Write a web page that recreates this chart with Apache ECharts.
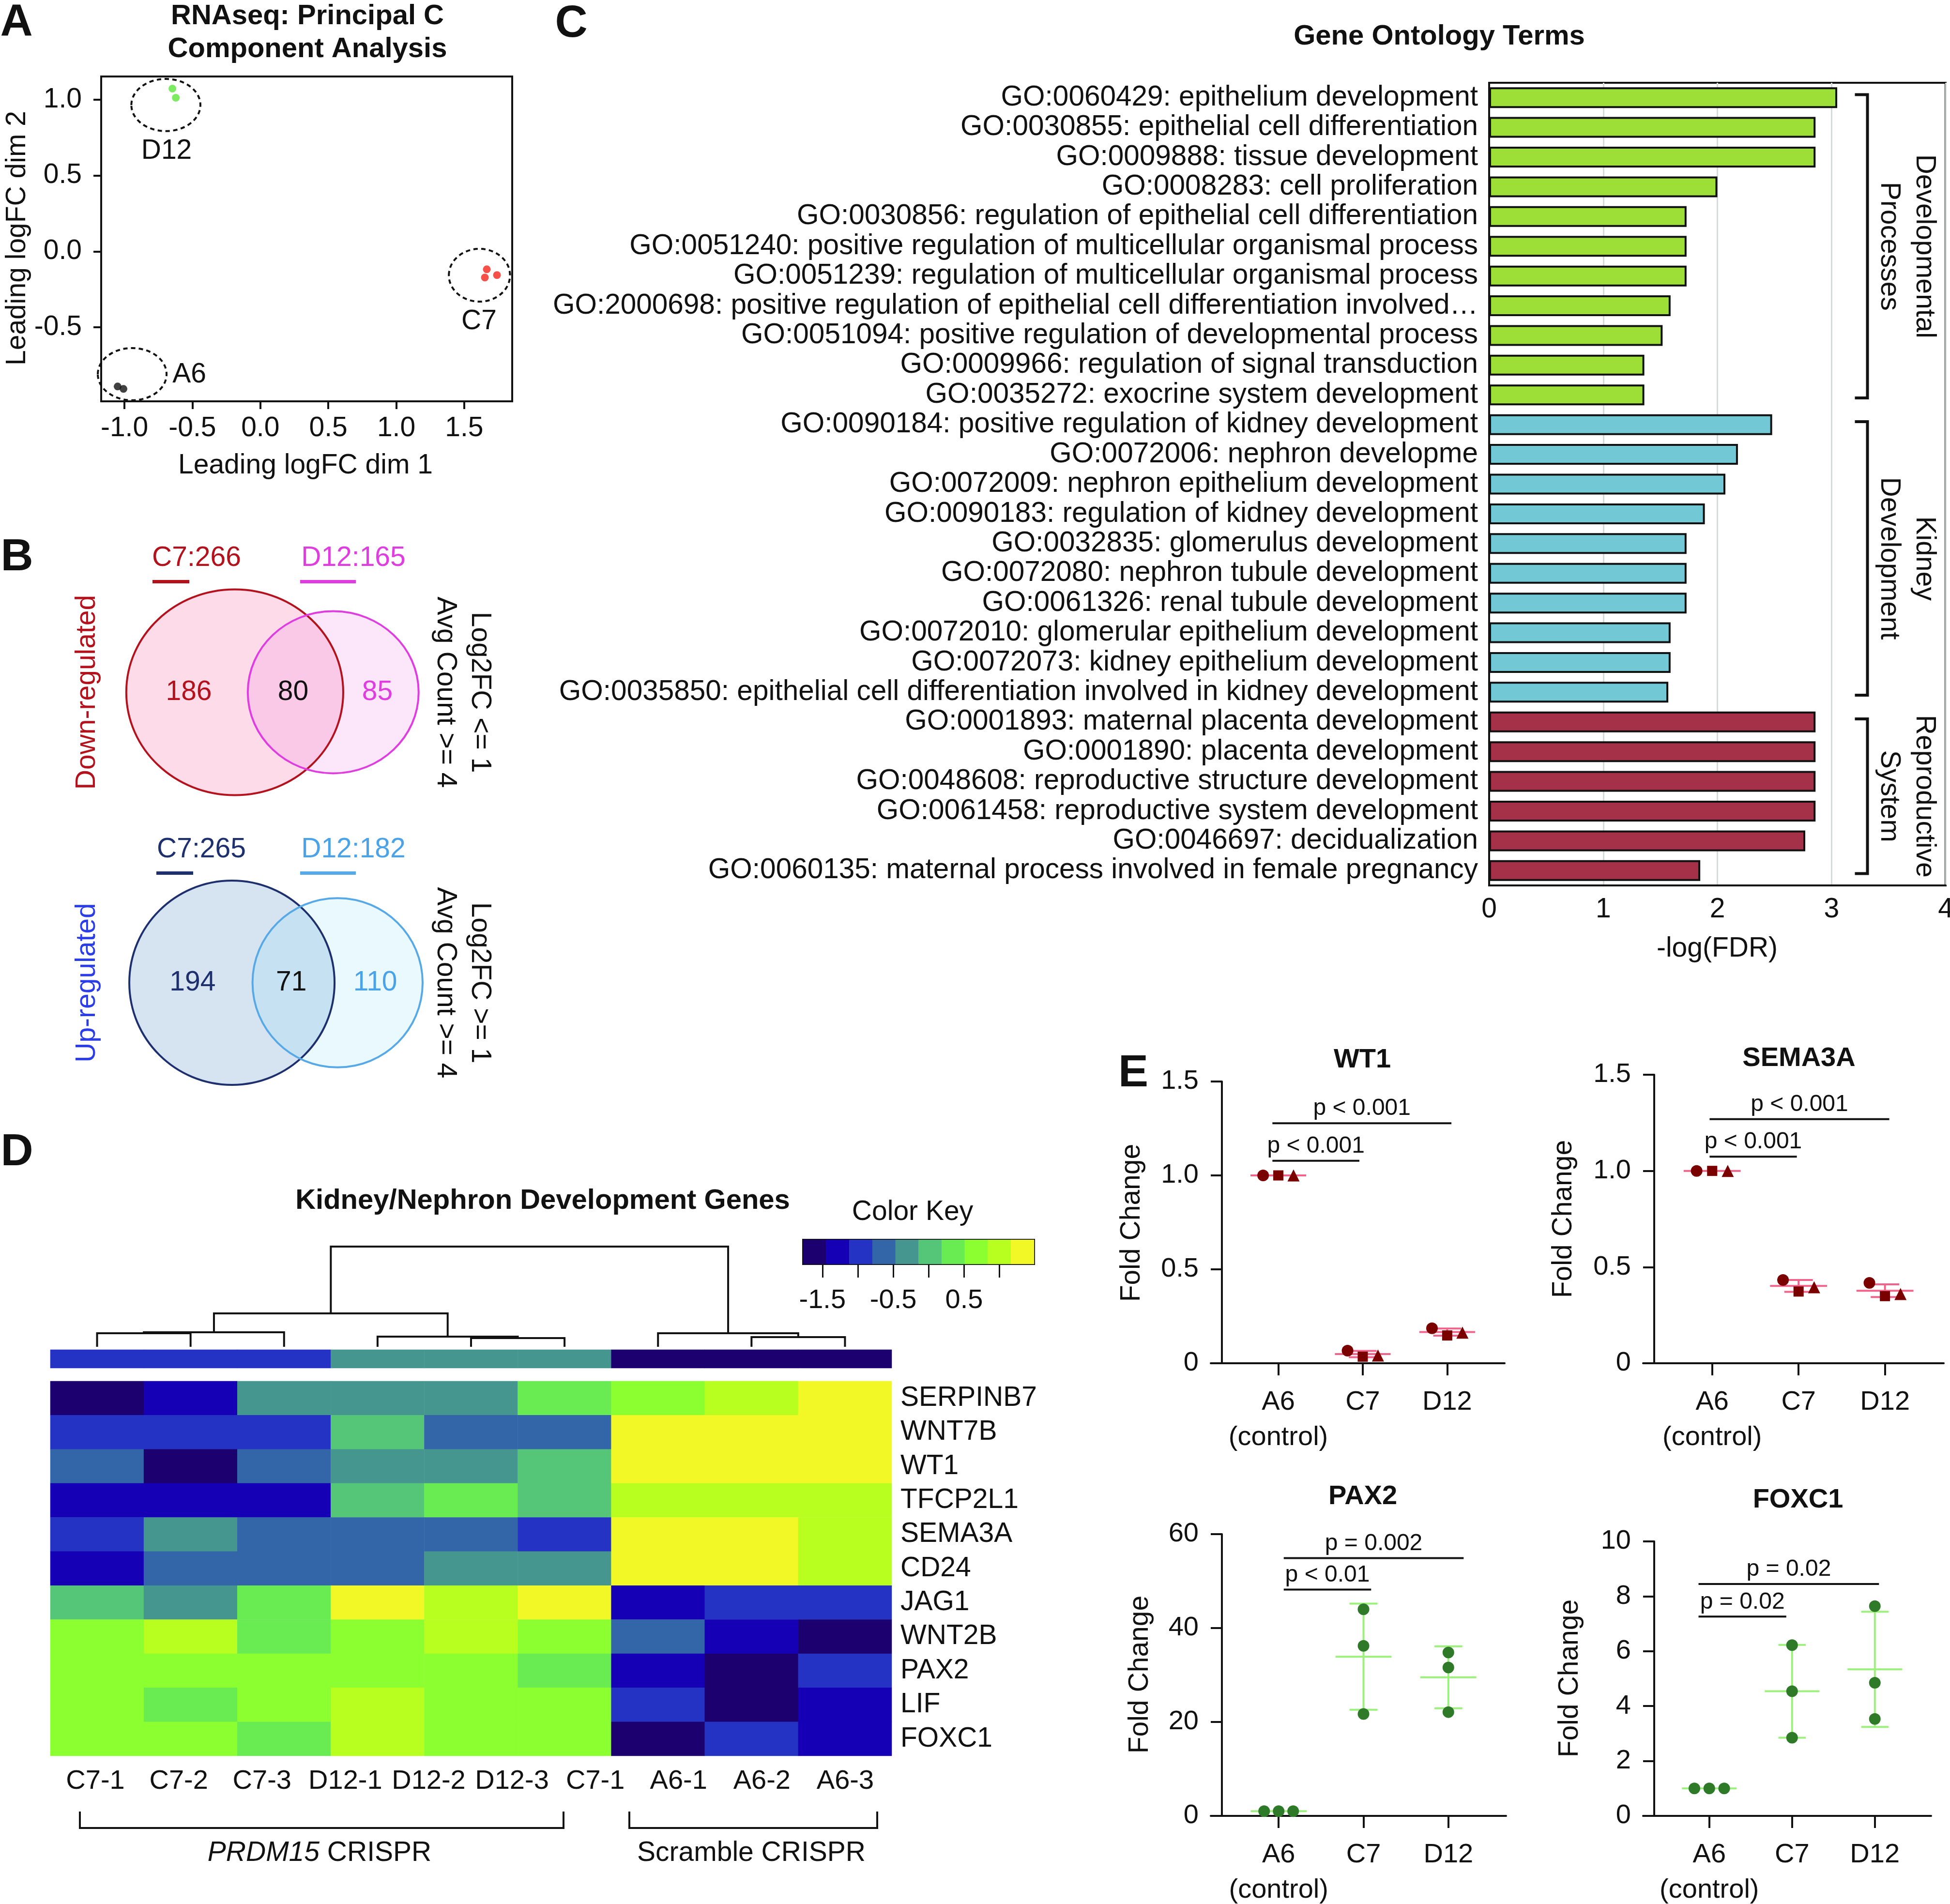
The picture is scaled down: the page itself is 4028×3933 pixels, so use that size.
<!DOCTYPE html>
<html>
<head>
<meta charset="utf-8">
<title>PRDM15 CRISPR figure</title>
<script src="https://cdn.jsdelivr.net/npm/echarts@6.0.0/dist/echarts.min.js"></script>
<style>
html,body{margin:0;padding:0;background:#ffffff;}
#chart{width:4028px;height:3933px;}
</style>
</head>
<body>
<div id="chart"></div>
<script>
// ================= DATA =================
// --- Panel A: PCA ---
const pcaA6 = [[-1.050, -0.890], [-1.007, -0.906]];
const pcaC7 = [[1.666, -0.118], [1.652, -0.172], [1.741, -0.156]];
const pcaD12 = [[-0.647, 1.073], [-0.622, 1.013]];
const pcaEllipses = [[-0.943, -0.809, 0.253, 0.172], [1.612, -0.157, 0.225, 0.174], [-0.695, 0.965, 0.254, 0.172]];
const pcaGroupLabels = ['A6', 'C7', 'D12'];
const pcaLabelAt = [[-0.522, -0.812], [1.609, -0.464], [-0.690, 0.660]];
const pcaXTicks = [-1.0, -0.5, 0.0, 0.5, 1.0, 1.5];
const pcaYTicks = [-0.5, 0.0, 0.5, 1.0];

// --- Panel B: Venn diagrams ---
const vennDownTotals = [266, 165];
const vennDownOverlap = 80;
const vennDownRegions = [186, 80, 85];
const vennUpTotals = [265, 182];
const vennUpOverlap = 71;
const vennUpRegions = [194, 71, 110];

// --- Panel C: GO terms ---
const goTerms = [
  'GO:0060429: epithelium development',
  'GO:0030855: epithelial cell differentiation',
  'GO:0009888: tissue development',
  'GO:0008283: cell proliferation',
  'GO:0030856: regulation of epithelial cell differentiation',
  'GO:0051240: positive regulation of multicellular organismal process',
  'GO:0051239: regulation of multicellular organismal process',
  'GO:2000698: positive regulation of epithelial cell differentiation involved\u2026',
  'GO:0051094: positive regulation of developmental process',
  'GO:0009966: regulation of signal transduction',
  'GO:0035272: exocrine system development',
  'GO:0090184: positive regulation of kidney development',
  'GO:0072006: nephron developme',
  'GO:0072009: nephron epithelium development',
  'GO:0090183: regulation of kidney development',
  'GO:0032835: glomerulus development',
  'GO:0072080: nephron tubule development',
  'GO:0061326: renal tubule development',
  'GO:0072010: glomerular epithelium development',
  'GO:0072073: kidney epithelium development',
  'GO:0035850: epithelial cell differentiation involved in kidney development',
  'GO:0001893: maternal placenta development',
  'GO:0001890: placenta development',
  'GO:0048608: reproductive structure development',
  'GO:0061458: reproductive system development',
  'GO:0046697: decidualization',
  'GO:0060135: maternal process involved in female pregnancy'
];
const goValues = [3.05, 2.86, 2.86, 2.00, 1.73, 1.73, 1.73, 1.59, 1.52, 1.36, 1.36,
                  2.48, 2.18, 2.07, 1.89, 1.73, 1.73, 1.73, 1.59, 1.59, 1.57,
                  2.86, 2.86, 2.86, 2.86, 2.77, 1.85];
const goGroupIndex = [0,0,0,0,0,0,0,0,0,0,0, 1,1,1,1,1,1,1,1,1,1, 2,2,2,2,2,2];
const goGroupNames = [['Developmental', 'Processes'], ['Kidney', 'Development'], ['Reproductive', 'System']];

// --- Panel D: heatmap ---
const hmSampleLabels = ['C7-1', 'C7-2', 'C7-3', 'D12-1', 'D12-2', 'D12-3', 'C7-1', 'A6-1', 'A6-2', 'A6-3'];
const hmGenes = ['SERPINB7', 'WNT7B', 'WT1', 'TFCP2L1', 'SEMA3A', 'CD24', 'JAG1', 'WNT2B', 'PAX2', 'LIF', 'FOXC1'];
const hmValues = [
  [-1.61, -1.28, -0.30, -0.30, -0.30,  0.35,  0.68,  1.00,  1.33],
  [-0.96, -0.96, -0.96,  0.02, -0.63, -0.63,  1.33,  1.33,  1.33],
  [-0.63, -1.61, -0.63, -0.30, -0.30,  0.02,  1.33,  1.33,  1.33],
  [-1.28, -1.28, -1.28,  0.02,  0.35,  0.02,  1.00,  1.00,  1.00],
  [-0.96, -0.30, -0.63, -0.63, -0.63, -0.96,  1.33,  1.33,  1.00],
  [-1.28, -0.63, -0.63, -0.63, -0.30, -0.30,  1.33,  1.33,  1.00],
  [ 0.02, -0.30,  0.35,  1.33,  1.00,  1.33, -1.28, -0.96, -0.96],
  [ 0.68,  1.00,  0.35,  0.68,  1.00,  0.68, -0.63, -1.28, -1.61],
  [ 0.68,  0.68,  0.68,  0.68,  0.68,  0.35, -1.28, -1.61, -0.96],
  [ 0.68,  0.35,  0.68,  1.00,  0.68,  0.68, -0.96, -1.61, -1.28],
  [ 0.68,  0.68,  0.35,  1.00,  0.68,  0.68, -1.61, -0.96, -1.28]
];
const hmColumnGroup = [-0.96, -0.96, -0.96, -0.30, -0.30, -0.30, -1.61, -1.61, -1.61];
// hclust-style merges: negative = leaf (1-based), positive = earlier merge; third = height
const dendroMerges = [[-1, -2, 28], [1, -3, 30], [-5, -6, 18], [-4, 3, 21], [2, 4, 69], [-8, -9, 20], [-7, 6, 28], [5, 7, 207]];
const colorKeyBreaks = [-1.772, -1.446, -1.120, -0.794, -0.468, -0.142, 0.184, 0.510, 0.836, 1.162, 1.488];
const colorKeyColors = ['#1c0070', '#1600b6', '#2433c4', '#3366a8', '#469690', '#55c578', '#68ec52', '#8cff30', '#b8ff20', '#f2f826'];
const colorKeyTicks = [-1.5, -1.0, -0.5, 0.0, 0.5, 1.0];
const colorKeyLabels = [-1.5, -0.5, 0.5];

// --- Panel E: qPCR ---
const qpcrGroups = ['A6\n(control)', 'C7', 'D12'];
const wt1Points = [[1.00, 1.00, 1.00], [0.067, 0.035, 0.041], [0.186, 0.148, 0.163]];
const wt1Mean = [1.00, 0.049, 0.166];
const wt1Sd = [0, 0.017, 0.019];
const wt1Sig = [[-0.07, 2.05, 1.278], [-0.07, 0.96, 1.078]];
const wt1SigText = ['p < 0.001', 'p < 0.001'];
const sema3aPoints = [[1.00, 1.00, 1.00], [0.433, 0.373, 0.395], [0.418, 0.349, 0.360]];
const sema3aMean = [1.00, 0.402, 0.377];
const sema3aSd = [0, 0.031, 0.033];
const sema3aSig = [[-0.03, 2.05, 1.269], [-0.03, 0.98, 1.074]];
const sema3aSigText = ['p < 0.001', 'p < 0.001'];
const pax2Points = [[1.0, 1.0, 1.0], [44.0, 36.2, 21.7], [34.8, 31.6, 22.1]];
const pax2Mean = [1.0, 33.9, 29.5];
const pax2Sd = [0, 11.3, 6.6];
const pax2Sig = [[0.06, 2.18, 54.9], [0.06, 1.09, 48.2]];
const pax2SigText = ['p = 0.002', 'p < 0.01'];
const foxc1Points = [[1.0, 1.0, 1.0], [6.22, 4.54, 2.85], [7.64, 4.85, 3.53]];
const foxc1Mean = [1.0, 4.54, 5.34];
const foxc1Sd = [0, 1.69, 2.10];
const foxc1Sig = [[-0.13, 2.05, 8.45], [-0.13, 0.93, 7.26]];
const foxc1SigText = ['p = 0.02', 'p = 0.02'];

// ================= STYLE / LAYOUT =================
const FF = "'Liberation Sans', Arial, Helvetica, sans-serif";
const K = '#111111';
const FS = 57;

const grids = [], xAxes = [], yAxes = [], series = [], G = [];
function addGrid(l, t, w, h, extra) {
  grids.push(Object.assign({left: l, top: t, width: w, height: h, containLabel: false, outerBoundsMode: 'none'}, extra || {}));
  return grids.length - 1;
}
function hiddenVal(gi, min, max, isX) {
  const a = {gridIndex: gi, type: 'value', min: min, max: max, show: false, axisLine: {onZero: false}, splitLine: {show: false}};
  return (isX ? xAxes : yAxes).push(a) - 1;
}
function hiddenCat(gi, data, isX, extra) {
  const a = Object.assign({gridIndex: gi, type: 'category', data: data, show: false}, extra || {});
  return (isX ? xAxes : yAxes).push(a) - 1;
}
function T(x, y, text, o) {
  o = o || {};
  const st = {text: text, fontSize: o.size || FS, fontWeight: o.bold ? 'bold' : 'normal', fontFamily: FF,
    fill: o.color || K, align: o.align || 'center', verticalAlign: o.va || 'middle'};
  if (o.rich) st.rich = o.rich;
  return {type: 'text', x: x, y: y, rotation: o.rot || 0, z: 100, style: st};
}
function PL(points, w) {
  return {type: 'polyline', z: 100, shape: {points: points}, style: {stroke: K, lineWidth: w || 4, fill: 'none'}};
}

// Panel letters
G.push(T(34, 47, 'A', {size: 93, bold: true}));
G.push(T(35, 1152, 'B', {size: 93, bold: true}));
G.push(T(1180, 50, 'C', {size: 93, bold: true}));
G.push(T(35, 2381, 'D', {size: 93, bold: true}));
G.push(T(2341, 2218, 'E', {size: 93, bold: true}));

// ================= PANEL A =================
const gA = addGrid(209, 158, 849, 671, {show: true, borderColor: K, borderWidth: 4});
const xA = xAxes.push({gridIndex: gA, type: 'value', min: -1.171, max: 1.853,
  axisLine: {show: true, onZero: false, lineStyle: {color: K, width: 4}},
  axisTick: {show: true, length: 16, lineStyle: {color: K, width: 4}, customValues: pcaXTicks},
  axisLabel: {customValues: pcaXTicks, formatter: v => v.toFixed(1), fontSize: FS, color: K, margin: 28},
  splitLine: {show: false}}) - 1;
const yA = yAxes.push({gridIndex: gA, type: 'value', min: -0.988, max: 1.153,
  axisLine: {show: true, onZero: false, lineStyle: {color: K, width: 4}},
  axisTick: {show: true, length: 16, lineStyle: {color: K, width: 4}, customValues: pcaYTicks},
  axisLabel: {customValues: pcaYTicks, formatter: v => v.toFixed(1), fontSize: FS, color: K, margin: 40},
  splitLine: {show: false}}) - 1;
series.push({type: 'custom', xAxisIndex: xA, yAxisIndex: yA, data: pcaEllipses, z: 2, clip: false,
  renderItem: (p, api) => {
    const c = api.coord([api.value(0), api.value(1)]);
    const s = api.size([api.value(2), api.value(3)]);
    return {type: 'ellipse', shape: {cx: c[0], cy: c[1], rx: s[0], ry: s[1]},
      style: {fill: 'none', stroke: K, lineWidth: 4, lineDash: [9, 7]}};
  }});
series.push({type: 'scatter', xAxisIndex: xA, yAxisIndex: yA, data: pcaA6, symbolSize: 16, itemStyle: {color: '#111111'}, z: 5});
series.push({type: 'scatter', xAxisIndex: xA, yAxisIndex: yA, data: pcaC7, symbolSize: 16, itemStyle: {color: '#f2261c'}, z: 5});
series.push({type: 'scatter', xAxisIndex: xA, yAxisIndex: yA, data: pcaD12, symbolSize: 16, itemStyle: {color: '#5de63a'}, z: 5});
series.push({type: 'custom', xAxisIndex: xA, yAxisIndex: yA, data: pcaLabelAt, z: 6,
  renderItem: (p, api) => {
    const c = api.coord([api.value(0), api.value(1)]);
    return {type: 'text', x: c[0], y: c[1], style: {text: pcaGroupLabels[p.dataIndex], fontSize: FS, fontFamily: FF, fill: K, align: 'center', verticalAlign: 'middle'}};
  }});
G.push(T(635, 34, 'RNAseq: Principal C', {size: 58, bold: true}));
G.push(T(635, 102, 'Component Analysis', {size: 58, bold: true}));
G.push(T(36, 492, 'Leading logFC dim 2', {rot: Math.PI / 2}));
G.push(T(631, 962, 'Leading logFC dim 1'));

// ================= PANEL B =================
function lensArea(r1, r2, d) {
  if (d >= r1 + r2) return 0;
  if (d <= Math.abs(r1 - r2)) return Math.PI * Math.min(r1, r2) ** 2;
  const a1 = Math.acos((d * d + r1 * r1 - r2 * r2) / (2 * d * r1));
  const a2 = Math.acos((d * d + r2 * r2 - r1 * r1) / (2 * d * r2));
  return r1 * r1 * a1 + r2 * r2 * a2 - 0.5 * Math.sqrt((-d + r1 + r2) * (d + r1 - r2) * (d - r1 + r2) * (d + r1 + r2));
}
function vennDistance(r1, r2, ov) {
  let lo = Math.abs(r1 - r2), hi = r1 + r2;
  for (let i = 0; i < 80; i++) { const m = (lo + hi) / 2; if (lensArea(r1, r2, m) > ov) lo = m; else hi = m; }
  return (lo + hi) / 2;
}
function addVenn(gi, xr, yr, totals, overlap, regions, col) {
  const xi = hiddenVal(gi, xr[0], xr[1], true), yi = hiddenVal(gi, yr[0], yr[1], false);
  const r1 = Math.sqrt(totals[0] / Math.PI), r2 = Math.sqrt(totals[1] / Math.PI);
  const d = vennDistance(r1, r2, overlap);
  series.push({type: 'custom', xAxisIndex: xi, yAxisIndex: yi, data: [[r1, r2, d]], clip: false, z: 3,
    renderItem: (p, api) => {
      const c1 = api.coord([0, 0]), c2 = api.coord([d, 0]);
      const s1 = api.size([r1, r1]), s2 = api.size([r2, r2]);
      const labX = [(-r1 + d - r2) / 2 + 0.15, (d - r2 + r1) / 2 - 0.2, (r1 + d + r2) / 2 - 0.3];
      const ch = [
        {type: 'ellipse', shape: {cx: c1[0], cy: c1[1], rx: s1[0], ry: s1[1]}, style: {fill: col.fill1, stroke: 'none'}},
        {type: 'ellipse', shape: {cx: c2[0], cy: c2[1], rx: s2[0], ry: s2[1]}, style: {fill: col.fill2, stroke: 'none'}},
        {type: 'ellipse', shape: {cx: c1[0], cy: c1[1], rx: s1[0], ry: s1[1]}, style: {fill: 'none', stroke: col.stroke1, lineWidth: 4}},
        {type: 'ellipse', shape: {cx: c2[0], cy: c2[1], rx: s2[0], ry: s2[1]}, style: {fill: 'none', stroke: col.stroke2, lineWidth: 4}}
      ];
      labX.forEach((lx, i) => {
        const q = api.coord([lx, 0]);
        ch.push({type: 'text', x: q[0], y: q[1], style: {text: String(regions[i]), fontSize: FS, fontFamily: FF, fill: col.text[i], align: 'center', verticalAlign: 'middle'}});
      });
      return {type: 'group', children: ch};
    }});
}
const gBd = addGrid(200, 1190, 900, 480);
addVenn(gBd, [-11.70, 25.26], [-10.39, 10.39], vennDownTotals, vennDownOverlap, vennDownRegions,
  {fill1: '#fddbe9', fill2: 'rgba(240,110,225,0.17)', stroke1: '#b3121c', stroke2: '#e03de0', text: ['#b3121c', K, '#e03de0']});
const gBu = addGrid(200, 1790, 900, 480);
addVenn(gBu, [-12.09, 26.90], [-10.45, 10.45], vennUpTotals, vennUpOverlap, vennUpRegions,
  {fill1: '#d6e3f1', fill2: 'rgba(120,215,240,0.16)', stroke1: '#1e2f6e', stroke2: '#56a9e6', text: ['#1e2f6e', K, '#4aa3e8']});
G.push(T(406, 1153, 'C7:' + vennDownTotals[0], {color: '#b3121c'}));
G.push({type: 'rect', z: 100, shape: {x: 315, y: 1198, width: 76, height: 7}, style: {fill: '#b3121c'}});
G.push(T(730, 1153, 'D12:' + vennDownTotals[1], {color: '#e03de0'}));
G.push({type: 'rect', z: 100, shape: {x: 620, y: 1198, width: 115, height: 7}, style: {fill: '#e03de0'}});
G.push(T(180, 1430, 'Down-regulated', {rot: Math.PI / 2, color: '#b3121c'}));
G.push(T(991, 1430, 'Log2FC <= 1', {rot: -Math.PI / 2}));
G.push(T(920, 1430, 'Avg Count >= 4', {rot: -Math.PI / 2}));
G.push(T(416, 1755, 'C7:' + vennUpTotals[0], {color: '#1e2f6e'}));
G.push({type: 'rect', z: 100, shape: {x: 323, y: 1800, width: 76, height: 7}, style: {fill: '#1e2f6e'}});
G.push(T(730, 1755, 'D12:' + vennUpTotals[1], {color: '#4aa3e8'}));
G.push({type: 'rect', z: 100, shape: {x: 620, y: 1800, width: 115, height: 7}, style: {fill: '#56a9e6'}});
G.push(T(180, 2030, 'Up-regulated', {rot: Math.PI / 2, color: '#2a3de6'}));
G.push(T(991, 2030, 'Log2FC >= 1', {rot: -Math.PI / 2}));
G.push(T(920, 2030, 'Avg Count >= 4', {rot: -Math.PI / 2}));

// ================= PANEL C =================
const goColors = ['#9ddf36', '#72c8d4', '#a43147'];
const gC = addGrid(3076, 171, 943, 1658, {show: true, borderColor: K, borderWidth: 4});
const xC = xAxes.push({gridIndex: gC, type: 'value', min: 0, max: 4, interval: 1,
  axisLine: {show: true, onZero: false, lineStyle: {color: K, width: 4}}, axisTick: {show: false},
  axisLabel: {fontSize: FS, color: K, margin: 22},
  splitLine: {show: true, lineStyle: {color: '#d6dcdc', width: 3}}}) - 1;
const yC = yAxes.push({gridIndex: gC, type: 'category', data: goTerms, inverse: true,
  axisLine: {show: true, onZero: false, lineStyle: {color: K, width: 4}}, axisTick: {show: false},
  axisLabel: {interval: 0, fontSize: 58.5, color: K, margin: 23}}) - 1;
series.push({type: 'bar', xAxisIndex: xC, yAxisIndex: yC, barWidth: 43, z: 3,
  data: goValues.map((v, i) => ({value: v, itemStyle: {color: goColors[goGroupIndex[i]]}})),
  itemStyle: {borderColor: K, borderWidth: 4}});
const goRanges = goGroupNames.map((n, g) => [goGroupIndex.indexOf(g), goGroupIndex.lastIndexOf(g)]);
const goBracketX = 3.315;
series.push({type: 'custom', xAxisIndex: xC, yAxisIndex: yC, data: goRanges, clip: false, z: 4,
  renderItem: (p, api) => {
    const s = api.value(0), e = api.value(1);
    const band = api.size([0, 1])[1];
    const a = api.coord([goBracketX, s]), b = api.coord([goBracketX, e]);
    const x = a[0], y1 = a[1] - band * 0.1, y2 = b[1] + band * 0.1, ym = (y1 + y2) / 2;
    const names = goGroupNames[p.dataIndex];
    const ts = {fontSize: FS, fontFamily: FF, fill: K, align: 'center', verticalAlign: 'middle'};
    return {type: 'group', children: [
      {type: 'polyline', shape: {points: [[x - 26, y1], [x, y1], [x, y2], [x - 26, y2]]}, style: {stroke: K, lineWidth: 6, fill: 'none'}},
      {type: 'text', x: x + 117, y: ym, rotation: -Math.PI / 2, style: Object.assign({text: names[0]}, ts)},
      {type: 'text', x: x + 44, y: ym, rotation: -Math.PI / 2, style: Object.assign({text: names[1]}, ts)}
    ]};
  }});
G.push(T(2973, 76, 'Gene Ontology Terms', {size: 58, bold: true}));
G.push(T(3547, 1960, '-log(FDR)'));

// ================= PANEL D =================
const nCols = hmValues[0].length;
const hmCols = Array.from({length: nCols}, (_, i) => 'c' + (i + 1));
const hmLeft = 104, hmWidth = 1738;
// dendrogram
const gDd = addGrid(hmLeft, 2575, hmWidth, 207);
const xDd = hiddenVal(gDd, -0.5, nCols - 0.5, true), yDd = hiddenVal(gDd, 0, 207, false);
const dendroSegments = (() => {
  const nx = [], nh = [], segs = [];
  const at = r => r < 0 ? [-r - 1, 0] : [nx[r - 1], nh[r - 1]];
  dendroMerges.forEach(m => {
    const pa = at(m[0]), pb = at(m[1]);
    segs.push([pa[0], pa[1], pb[0], pb[1], m[2]]);
    nx.push((pa[0] + pb[0]) / 2); nh.push(m[2]);
  });
  return segs;
})();
series.push({type: 'custom', xAxisIndex: xDd, yAxisIndex: yDd, data: dendroSegments, clip: false,
  renderItem: (p, api) => {
    const xa = api.value(0), ha = api.value(1), xb = api.value(2), hb = api.value(3), h = api.value(4);
    return {type: 'polyline', shape: {points: [api.coord([xa, ha]), api.coord([xa, h]), api.coord([xb, h]), api.coord([xb, hb])]},
      style: {stroke: K, lineWidth: 4, fill: 'none'}};
  }});
// column colour bar
const gDc = addGrid(hmLeft, 2788, hmWidth, 38);
const xDc = hiddenCat(gDc, hmCols, true), yDc = hiddenCat(gDc, ['grp'], false);
const sColBar = series.push({type: 'heatmap', xAxisIndex: xDc, yAxisIndex: yDc,
  data: hmColumnGroup.map((v, i) => [i, 0, v])}) - 1;
// heatmap
const gDh = addGrid(hmLeft, 2853, hmWidth, 774);
const xDh = hiddenCat(gDh, hmCols, true, {position: 'top'});
const yDh = yAxes.push({gridIndex: gDh, type: 'category', data: hmGenes, inverse: true, position: 'right',
  axisLine: {show: false}, axisTick: {show: false},
  axisLabel: {interval: 0, fontSize: FS, color: K, margin: 18}}) - 1;
const hmData = [];
hmValues.forEach((row, r) => row.forEach((v, c) => hmData.push([c, r, v])));
const sHeat = series.push({type: 'heatmap', xAxisIndex: xDh, yAxisIndex: yDh, data: hmData}) - 1;
// sample labels (10 labels spread under the 9 columns, as in the original)
const gDl = addGrid(111, 3627, 1721, 10);
xAxes.push({gridIndex: gDl, type: 'category', data: hmSampleLabels, position: 'bottom',
  axisLine: {show: false}, axisTick: {show: false},
  axisLabel: {interval: 0, fontSize: 56, color: K, margin: 15}});
hiddenVal(gDl, 0, 1, false);
// colour key
const gDk = addGrid(1659, 2561, 477, 50, {show: true, borderColor: K, borderWidth: 4});
const keyCols = colorKeyColors.map((c, i) => 'k' + i);
const xDk = hiddenCat(gDk, keyCols, true, {position: 'top'});
xAxes.push({gridIndex: gDk, type: 'value', min: colorKeyBreaks[0], max: colorKeyBreaks[colorKeyBreaks.length - 1], position: 'bottom',
  axisLine: {show: false, onZero: false},
  axisTick: {show: true, length: 28, lineStyle: {color: K, width: 3}, customValues: colorKeyTicks},
  axisLabel: {customValues: colorKeyLabels, formatter: v => v.toFixed(1), fontSize: 56, color: K, margin: 48},
  splitLine: {show: false}});
const yDk = hiddenCat(gDk, ['key'], false);
const sKey = series.push({type: 'heatmap', xAxisIndex: xDk, yAxisIndex: yDk,
  data: colorKeyColors.map((c, i) => [i, 0, (colorKeyBreaks[i] + colorKeyBreaks[i + 1]) / 2])}) - 1;
G.push(T(1121, 2481, 'Kidney/Nephron Development Genes', {size: 58, bold: true}));
G.push(T(1885, 2504, 'Color Key'));
G.push(PL([[165, 3742], [165, 3776], [1164, 3776], [1164, 3742]], 4));
G.push(PL([[1300, 3742], [1300, 3776], [1812, 3776], [1812, 3742]], 4));
G.push(T(660, 3828, '{i|PRDM15} CRISPR', {rich: {i: {fontStyle: 'italic', fontSize: FS, fontFamily: FF, fill: K}}}));
G.push(T(1552, 3828, 'Scramble CRISPR'));

// ================= PANEL E =================
const eBaseOffsets = [-0.18, 0, 0.18];
const ePanels = [
  {gene: 'WT1', pts: wt1Points, mean: wt1Mean, sd: wt1Sd, sig: wt1Sig, sigText: wt1SigText,
   left: 2501, top: 2234, width: 607, height: 582, max: 1.5, interval: 0.5, dec: 1,
   title: [2814, 2190], yname: [2338, 2526], line: '#f0648c', dot: '#7a0000', shapes: ['circle', 'rect', 'triangle'], spread: [1, 1, 1]},
  {gene: 'SEMA3A', pts: sema3aPoints, mean: sema3aMean, sd: sema3aSd, sig: sema3aSig, sigText: sema3aSigText,
   left: 3394, top: 2220, width: 621, height: 596, max: 1.5, interval: 0.5, dec: 1,
   title: [3716, 2187], yname: [3230, 2518], line: '#f0648c', dot: '#7a0000', shapes: ['circle', 'rect', 'triangle'], spread: [1, 1, 1]},
  {gene: 'PAX2', pts: pax2Points, mean: pax2Mean, sd: pax2Sd, sig: pax2Sig, sigText: pax2SigText,
   left: 2501, top: 3169, width: 610, height: 582, max: 60, interval: 20, dec: 0,
   title: [2815, 3092], yname: [2355, 3459], line: '#9cf07c', dot: '#2e7a29', shapes: ['circle', 'circle', 'circle'], spread: [0.95, 0, 0]},
  {gene: 'FOXC1', pts: foxc1Points, mean: foxc1Mean, sd: foxc1Sd, sig: foxc1Sig, sigText: foxc1SigText,
   left: 3394, top: 3184, width: 595, height: 567, max: 10, interval: 2, dec: 0,
   title: [3714, 3099], yname: [3243, 3467], line: '#9cf07c', dot: '#2e7a29', shapes: ['circle', 'circle', 'circle'], spread: [1, 0, 0]}
];
const symSize = {circle: 24, rect: 21, triangle: 25};
ePanels.forEach(P => {
  const gi = addGrid(P.left, P.top, P.width, P.height);
  const xi = xAxes.push({gridIndex: gi, type: 'value', min: -0.8, max: 2.68,
    axisLine: {show: true, onZero: false, lineStyle: {color: K, width: 4}},
    axisTick: {show: true, length: 25, lineStyle: {color: K, width: 4}, customValues: [0, 1, 2]},
    axisLabel: {customValues: [0, 1, 2], formatter: v => qpcrGroups[Math.round(v)], fontSize: 56, lineHeight: 73, color: K, margin: 44},
    splitLine: {show: false}}) - 1;
  const yi = yAxes.push({gridIndex: gi, type: 'value', min: 0, max: P.max, interval: P.interval, offset: -23,
    axisLine: {show: true, onZero: false, lineStyle: {color: K, width: 4}},
    axisTick: {show: true, length: 23, lineStyle: {color: K, width: 4}},
    axisLabel: {formatter: v => (v === 0 ? '0' : v.toFixed(P.dec)), fontSize: 56, color: K, margin: 48},
    splitLine: {show: false}}) - 1;
  series.push({type: 'custom', xAxisIndex: xi, yAxisIndex: yi, z: 2, clip: false,
    data: P.mean.map((m, g) => [g, m, P.sd[g]]),
    renderItem: (p, api) => {
      const g = api.value(0), m = api.value(1), s = api.value(2);
      const seg = (x1, y1, x2, y2) => {
        const a = api.coord([x1, y1]), b = api.coord([x2, y2]);
        return {type: 'line', shape: {x1: a[0], y1: a[1], x2: b[0], y2: b[1]}, style: {stroke: P.line, lineWidth: 4}};
      };
      const ch = [seg(g - 0.33, m, g + 0.33, m)];
      if (s > 0) {
        ch.push(seg(g, m - s, g, m + s));
        ch.push(seg(g - 0.165, m + s, g + 0.165, m + s));
        ch.push(seg(g - 0.165, m - s, g + 0.165, m - s));
      }
      return {type: 'group', children: ch};
    }});
  const pts = [];
  P.pts.forEach((vals, g) => vals.forEach((v, r) => {
    const shp = P.shapes[r];
    pts.push({value: [g + eBaseOffsets[r] * P.spread[g], v], symbol: shp, symbolSize: symSize[shp]});
  }));
  series.push({type: 'scatter', xAxisIndex: xi, yAxisIndex: yi, z: 4, data: pts, itemStyle: {color: P.dot, opacity: 1}});
  series.push({type: 'custom', xAxisIndex: xi, yAxisIndex: yi, z: 5, clip: false, data: P.sig,
    renderItem: (p, api) => {
      const a = api.coord([api.value(0), api.value(2)]), b = api.coord([api.value(1), api.value(2)]);
      return {type: 'group', children: [
        {type: 'line', shape: {x1: a[0], y1: a[1], x2: b[0], y2: b[1]}, style: {stroke: K, lineWidth: 4}},
        {type: 'text', x: (a[0] + b[0]) / 2, y: a[1] - 6, style: {text: P.sigText[p.dataIndex], fontSize: 48, fontFamily: FF, fill: K, align: 'center', verticalAlign: 'bottom'}}
      ]};
    }});
  G.push(T(P.title[0], P.title[1], P.gene, {size: 56, bold: true}));
  G.push(T(P.yname[0], P.yname[1], 'Fold Change', {rot: Math.PI / 2}));
});

// ================= CHART =================
const chart = echarts.init(document.getElementById('chart'), null, {renderer: 'canvas', width: 4028, height: 3933});
chart.setOption({
  animation: false,
  backgroundColor: '#ffffff',
  textStyle: {fontFamily: FF, color: K},
  grid: grids,
  xAxis: xAxes,
  yAxis: yAxes,
  visualMap: {type: 'piecewise', show: false, dimension: 2, seriesIndex: [sColBar, sHeat, sKey],
    pieces: colorKeyColors.map((c, i) => ({gte: colorKeyBreaks[i], lt: colorKeyBreaks[i + 1], color: c}))},
  series: series,
  graphic: {elements: G}
});
</script>
</body>
</html>
